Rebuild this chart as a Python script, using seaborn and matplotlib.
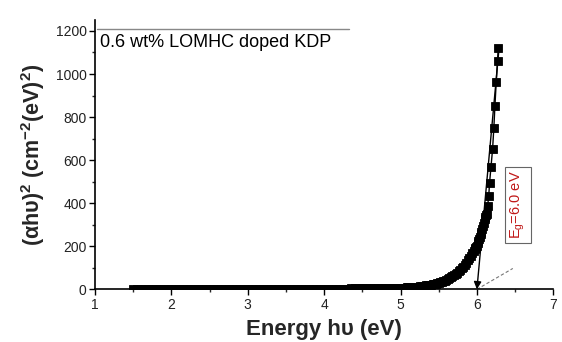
import matplotlib
matplotlib.use("Agg")
import matplotlib.pyplot as plt
import seaborn as sns
import pandas as pd
from matplotlib.ticker import MultipleLocator
from matplotlib.lines import Line2D

# ---- data ----
energy_flat = [1.50, 1.55, 1.60, 1.65, 1.70, 1.75, 1.80, 1.85, 1.90, 1.95,
               2.00, 2.05, 2.10, 2.15, 2.20, 2.25, 2.30, 2.35, 2.40, 2.45,
               2.50, 2.55, 2.60, 2.65, 2.70, 2.75, 2.80, 2.85, 2.90, 2.95,
               3.00, 3.05, 3.10, 3.15, 3.20, 3.25, 3.30, 3.35, 3.40, 3.45,
               3.50, 3.55, 3.60, 3.65, 3.70, 3.75, 3.80, 3.85, 3.90, 3.95, 4.00]
alpha_flat = [0, 0, 0, 0, 0, 0, 0, 0, 0, 0,
              0, 0, 0, 0, 0, 0, 0, 0, 0, 0,
              0, 0, 0, 0, 0, 0, 0, 0, 0, 0,
              0, 0, 0, 0, 0, 0, 0, 0, 0, 0,
              0, 0, 0, 0, 0, 0, 0, 0, 0, 0, 0]

energy_mid = [4.05, 4.10, 4.15, 4.20, 4.25, 4.30, 4.35, 4.40, 4.45, 4.50,
              4.55, 4.60, 4.65, 4.70, 4.75, 4.80, 4.85, 4.90, 4.95, 5.00]
alpha_mid = [3, 3, 3, 3, 3, 3, 4, 4, 4, 4,
             4, 4, 5, 5, 5, 5, 6, 6, 7, 7]

energy_edge = [5.02, 5.04, 5.06, 5.08, 5.10, 5.12, 5.14, 5.16, 5.18, 5.20,
               5.22, 5.24, 5.26, 5.28, 5.30, 5.32, 5.34, 5.36, 5.38, 5.40,
               5.42, 5.44, 5.46, 5.48, 5.50, 5.52, 5.54, 5.56, 5.58, 5.60,
               5.62, 5.64, 5.66, 5.68, 5.70, 5.72, 5.74, 5.76, 5.78, 5.80,
               5.82, 5.84, 5.86, 5.88, 5.90, 5.92, 5.94, 5.96, 5.97, 5.98,
               5.99, 6.00, 6.01, 6.02, 6.03, 6.04, 6.05, 6.06, 6.07, 6.08,
               6.09, 6.10, 6.11, 6.12]
alpha_edge = [8, 8, 8, 9, 9, 10, 10, 11, 11, 12,
              13, 13, 14, 15, 16, 17, 18, 19, 20, 22,
              23, 25, 26, 28, 30, 32, 35, 38, 41, 45,
              49, 53, 57, 61, 66, 71, 77, 83, 90, 98,
              106, 115, 124, 134, 145, 156, 167, 179, 185, 191,
              197, 203, 213, 223, 233, 244, 255, 268, 282, 296,
              310, 325, 335, 345]

energy_top = [6.130, 6.140, 6.155, 6.165, 6.185, 6.205, 6.222, 6.236, 6.253, 6.270, 6.280]
alpha_top = [352, 387, 433, 492, 570, 650, 751, 853, 964, 1062, 1120]

fit_energy = [6.00, 6.29]
fit_alpha = [0, 1120]
base_energy = [6.00, 6.47]
base_alpha = [0, 97]

sample_label = "0.6 wt% LOMHC doped KDP"
gap_label = r"E$_g$=6.0 eV"
gap_pos = (6.54, 392)

df = pd.DataFrame({
    "E": energy_flat + energy_mid + energy_edge + energy_top,
    "A": alpha_flat + alpha_mid + alpha_edge + alpha_top,
})

# ---- style ----
sns.set_style("ticks")
plt.rcParams["font.family"] = ["Liberation Sans", "DejaVu Sans"]
plt.rcParams["mathtext.fontset"] = "custom"
plt.rcParams["mathtext.rm"] = "Liberation Sans"
plt.rcParams["mathtext.bf"] = "Liberation Sans:bold"
plt.rcParams["mathtext.default"] = "regular"

fig = plt.figure(figsize=(5.62, 3.42), dpi=100)
ax = fig.add_axes([0.169, 0.154, 0.8155, 0.787])

sns.lineplot(data=df, x="E", y="A", ax=ax, color="black", linewidth=1.0,
             marker="s", markersize=6, markeredgewidth=0.6,
             markeredgecolor="black", sort=True, estimator=None)

# fitted line with arrow
ax.annotate("", xy=(fit_energy[0], fit_alpha[0]),
            xytext=(fit_energy[1], fit_alpha[1]),
            arrowprops=dict(arrowstyle="-|>", color="black", lw=1.0,
                            mutation_scale=11, shrinkA=0, shrinkB=0))
ax.plot(base_energy, base_alpha, color="#777777", lw=0.8, ls=(0, (3, 2)))

ax.set_xlim(1, 7)
ax.set_ylim(0, 1250)
ax.xaxis.set_major_locator(MultipleLocator(1))
ax.xaxis.set_minor_locator(MultipleLocator(0.5))
ax.yaxis.set_major_locator(MultipleLocator(200))
ax.yaxis.set_minor_locator(MultipleLocator(100))
ax.tick_params(which="major", direction="out", length=4, width=1,
               labelsize=10, colors="black", labelcolor="#222222", pad=2)
ax.tick_params(which="minor", direction="out", length=2.5, width=1)
for s in ["left", "bottom"]:
    ax.spines[s].set_linewidth(1.2)
    ax.spines[s].set_color("black")
sns.despine(ax=ax)

ax.set_xlabel("Energy h\u03c5 (eV)", fontsize=16, fontweight="bold", labelpad=5)
ax.set_ylabel("(\u03b1h\u03c5)$^2$ (cm$^{-2}$(eV)$^2$)",
              fontsize=15.5, fontweight="bold", labelpad=6)

# sample label with its top rule
ax.add_line(Line2D([0.004, 0.555], [0.966, 0.966], transform=ax.transAxes,
                   color="#888888", lw=1.0))
ax.text(0.011, 0.947, sample_label, transform=ax.transAxes, fontsize=13,
        ha="left", va="top", color="black")

ax.text(gap_pos[0], gap_pos[1], gap_label, rotation=90, ha="center",
        va="center", fontsize=10.5, color="#c01818",
        bbox=dict(boxstyle="square,pad=0.25", fc="white", ec="#666666", lw=0.8))

fig.savefig("out.png", dpi=100)
